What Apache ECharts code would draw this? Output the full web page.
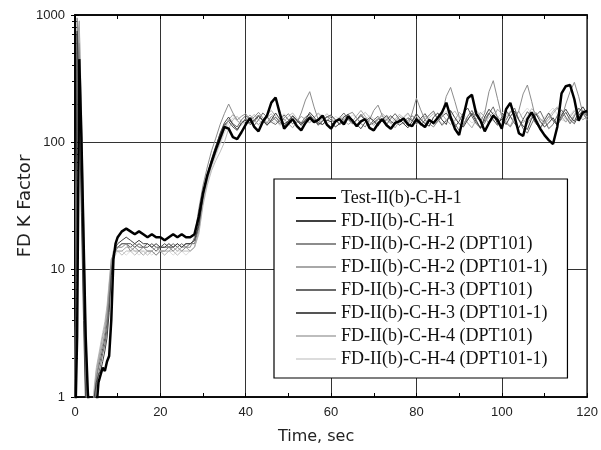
<!DOCTYPE html>
<html>
<head>
<meta charset="utf-8">
<script src="https://cdn.jsdelivr.net/npm/echarts@6/dist/echarts.min.js"></script>
<style>
html,body{margin:0;padding:0;background:#fff;}
#main{width:601px;height:450px;}
</style>
</head>
<body>
<div id="main"></div>
<script>
// 时间轴 (s)
var timeSec=[0,0.5,1,1.5,2,2.5,3,3.5,4,4.5,5,5.5,6,6.5,7,7.5,8,8.5,9,9.5,10,
	11,12,13,14,15,16,17,18,19,20,
	21,22,23,24,25,26,27,28,29,30,
	31,32,33,34,35,36,37,38,39,40,
	41,42,43,44,45,46,47,48,49,50,
	51,52,53,54,55,56,57,58,59,60,
	61,62,63,64,65,66,67,68,69,70,
	71,72,73,74,75,76,77,78,79,80,
	81,82,83,84,85,86,87,88,89,90,
	91,92,93,94,95,96,97,98,99,100,
	101,102,103,104,105,106,107,108,109,110,
	111,112,113,114,115,116,117,118,119,120];

var seriesNames=["Test-II(b)-C-H-1","FD-II(b)-C-H-1","FD-II(b)-C-H-2 (DPT101)","FD-II(b)-C-H-2 (DPT101-1)",
	"FD-II(b)-C-H-3 (DPT101)","FD-II(b)-C-H-3 (DPT101-1)","FD-II(b)-C-H-4 (DPT101)","FD-II(b)-C-H-4 (DPT101-1)"];

var testH1=[0.5,3,450,110,18,3,1.1,0.6,0.4,0.5,0.8,1.3,1.5,1.7,1.6,1.9,2.1,4,12,16,18,
	20,21,20,19,20,19,18,19,18,18,
	17,18,19,18,19,18,18,19,26,40,
	55,70,88,108,132,128,110,106,120,138,
	155,132,122,145,162,205,225,168,128,140,
	152,134,124,142,156,144,150,162,138,128,
	146,152,138,160,148,134,146,152,130,124,
	140,152,136,128,142,146,154,138,134,152,
	140,132,150,142,156,172,205,158,128,114,
	160,222,236,168,148,122,142,162,150,128,
	182,204,158,118,112,152,172,148,128,114,
	104,97,132,242,276,282,218,148,172,176];

var fdH1=[1,750,180,28,4,0.8,0.4,0.4,0.6,1.0,1.3,1.5,1.6,1.9,2.3,2.9,4.6,9,13,15,16,
	17,18,17,16,17,16,16,15,16,15,
	15,16,15,16,15,16,16,17,22,38,
	54,72,92,118,142,158,138,126,142,150,
	138,146,160,148,136,150,170,152,140,146,
	160,148,136,150,172,158,142,138,150,145,
	132,140,158,166,150,138,128,144,156,148,
	134,150,162,146,138,152,140,130,146,168,
	152,140,134,158,170,150,138,178,156,140,
	132,150,168,146,130,158,182,166,140,152,
	138,160,176,150,134,126,154,168,146,132,
	142,156,138,164,182,160,146,172,190,168];

var fdH2a=[1.2,950,420,60,8,1.5,0.6,0.3,0.5,0.9,1.4,1.8,2.2,2.6,3.2,4.2,6.5,11,14,14,15,
	15,16,14,15,14,15,14,14,13,14,
	14,15,14,15,14,15,15,18,30,46,
	64,86,108,138,168,200,170,150,160,168,
	150,158,172,156,142,160,150,140,156,168,
	150,142,170,215,250,190,150,138,146,160,
	152,140,150,166,172,155,140,132,150,178,
	196,162,140,128,144,160,150,138,170,222,
	180,150,140,132,146,168,230,270,210,160,
	140,150,170,162,145,170,250,305,220,160,
	142,132,150,178,240,282,210,150,130,142,
	160,150,138,152,200,250,296,230,168,150];

var fdH2b=[0.8,600,900,150,25,3,0.9,0.4,0.5,1.1,1.6,2.0,2.4,3.0,3.6,4.8,7.5,12,13,14,14,
	14,15,15,14,14,13,14,14,15,14,
	14,14,15,14,15,15,14,15,20,34,
	50,66,82,100,126,150,165,148,140,152,
	164,150,138,150,166,178,160,146,152,140,
	130,146,160,150,142,156,170,158,140,132,
	146,158,150,138,146,162,178,160,144,136,
	150,168,156,142,130,146,158,170,150,138,
	146,160,152,140,150,166,150,138,148,172,
	160,142,130,150,172,158,140,154,182,168,
	146,134,160,176,150,140,158,172,154,140,
	150,168,186,160,144,158,176,164,150,160];

var fdH3a=[0.9,400,600,90,12,2,0.7,0.4,0.5,0.8,1.2,1.5,1.8,2.2,2.6,3.4,5.5,10,13,14,15,
	16,16,15,16,15,15,16,15,14,15,
	15,15,16,15,16,15,16,16,21,36,
	52,68,86,110,134,150,140,132,150,162,
	148,136,150,170,158,144,138,150,164,150,
	140,150,142,158,166,150,136,148,160,150,
	142,156,170,152,140,150,162,148,136,150,
	160,146,138,154,168,152,140,148,162,150,
	136,150,164,176,152,136,148,160,140,124,
	136,160,178,150,128,142,168,190,156,132,
	150,172,186,150,128,118,140,162,176,150,
	128,138,162,180,158,140,160,186,172,150];

var fdH3b=[1.1,700,300,40,6,1.1,0.5,0.4,0.6,1.0,1.4,1.7,2.0,2.4,2.9,3.8,6,10.5,13,15,15,
	16,16,16,15,16,15,15,16,15,15,
	16,15,15,16,15,16,16,17,23,40,
	56,74,94,116,138,146,132,124,140,154,
	142,150,164,150,138,146,158,144,134,148,
	162,150,140,148,160,152,138,146,158,164,
	150,138,146,154,142,150,166,152,138,142,
	154,146,150,162,150,136,144,156,148,140,
	154,168,150,138,146,160,170,150,132,146,
	170,186,160,140,130,150,170,150,136,158,
	176,160,140,130,152,174,160,140,128,150,
	170,148,136,156,172,150,140,162,178,160];

var fdH4a=[0.7,300,800,200,30,4,1.0,0.5,0.6,1.2,1.7,2.1,2.6,3.2,3.9,5.2,8,12,13,14,14,
	13,14,14,13,14,14,13,14,13,14,
	13,14,14,13,14,14,14,15,19,32,
	46,60,72,84,100,128,150,160,146,140,
	152,166,150,140,156,168,150,136,146,160,
	170,154,142,150,162,150,140,154,168,156,
	144,150,162,150,140,148,160,172,158,144,
	150,162,150,140,152,166,156,142,150,160,
	150,142,156,168,152,140,150,164,176,156,
	144,152,166,180,160,146,156,172,160,146,
	158,176,164,150,142,160,184,170,152,146,
	158,176,190,170,152,146,166,184,176,158];

var fdH4b=[1.0,500,700,120,15,2.5,0.8,0.4,0.5,1.0,1.5,1.9,2.3,2.8,3.4,4.5,7,11.5,13,13,14,
	14,13,14,14,13,14,14,13,14,14,
	13,14,13,14,14,13,14,15,19,33,
	48,62,78,96,118,140,156,148,136,146,
	158,146,136,148,160,150,142,156,168,152,
	140,148,160,152,144,156,168,150,140,148,
	160,152,140,150,164,156,144,150,162,154,
	142,150,164,156,146,140,154,166,152,142,
	150,162,154,142,150,164,176,160,148,154,
	166,154,142,150,164,178,160,146,156,170,
	182,160,148,156,170,186,166,150,144,158,
	172,186,166,150,146,164,180,170,156,150];

var xTicks=[0,20,40,60,80,100,120];
var yTicks=[1,10,100,1000];

var allValues=[testH1,fdH1,fdH2a,fdH2b,fdH3a,fdH3b,fdH4a,fdH4b];
var lineColors=["#000000","#404040","#8c8c8c","#a8a8a8","#6a6a6a","#555555","#bdbdbd","#dcdcdc"];
var lineWidths=[2.5,1,1,1,1,1,1,1];

var myChart=echarts.init(document.getElementById("main"));

var series=[];
// 先画浅色，最后画黑色
for(var k=allValues.length-1;k>=0;k--){
	var vals=allValues[k];
	series.push({
		name:seriesNames[k],
		type:'line',
		symbol:'none',
		clip:true,
		z:10-k,
		data:timeSec.map(function(t,i){return [t,vals[i]];}),
		lineStyle:{color:lineColors[k],width:lineWidths[k]},
		itemStyle:{color:lineColors[k]}
	});
}

var axisFont={color:'#222',fontSize:13,fontFamily:'Liberation Sans, Arial, sans-serif'};
var nameFont='DejaVu Sans, sans-serif';

var option={
	animation:false,
	backgroundColor:'#fff',
	grid:{
		left:75,
		right:11,
		top:15,
		bottom:53,
		show:true,
		borderColor:'#000',
		borderWidth:1.5
	},
	legend:{
		data:seriesNames,
		orient:'vertical',
		left:274,
		top:179,
		padding:[10,20,10,21],
		itemWidth:40,
		itemHeight:14,
		itemGap:5,
		itemStyle:{opacity:0},
		backgroundColor:'#fff',
		borderColor:'#000',
		borderWidth:1.2,
		borderRadius:0,
		textStyle:{
			color:'#111',
			fontSize:18,
			fontFamily:'Liberation Serif, Times New Roman, serif'
		}
	},
	xAxis:[
		{
			type:'value',
			min:0,
			max:120,
			interval:20,
			name:'Time, sec',
			nameLocation:'middle',
			nameGap:32,
			nameTextStyle:{color:'#222',fontSize:16,fontFamily:nameFont,padding:[0,30,0,0]},
			axisLabel:Object.assign({margin:9,formatter:function(v){return xTicks.indexOf(v)>=0?v:'';}},axisFont),
			axisLine:{show:true,lineStyle:{color:'#000',width:1.5}},
			axisTick:{show:true,inside:true,length:4,lineStyle:{color:'#000'}},
			minorTick:{show:true,splitNumber:2,length:4,lineStyle:{color:'#000'}},
			splitLine:{show:true,lineStyle:{color:'#333',width:1}}
		},
		{
			type:'value',
			position:'top',
			min:0,
			max:120,
			interval:20,
			axisLabel:{show:false},
			axisLine:{show:true,lineStyle:{color:'#000',width:1.5}},
			axisTick:{show:true,inside:true,length:4,lineStyle:{color:'#000'}},
			minorTick:{show:true,splitNumber:2,length:4,lineStyle:{color:'#000'}},
			splitLine:{show:false}
		}
	],
	yAxis:[
		{
			type:'log',
			logBase:10,
			min:1,
			max:1000,
			name:'FD K Factor',
			nameLocation:'middle',
			nameGap:41,
			nameMoveOverlap:false,
			nameTextStyle:{color:'#222',fontSize:18,fontFamily:nameFont},
			axisLabel:Object.assign({margin:10,formatter:function(v){return yTicks.indexOf(v)>=0?v:'';}},axisFont),
			axisLine:{show:true,lineStyle:{color:'#000',width:1.5}},
			axisTick:{show:true,inside:true,length:4,lineStyle:{color:'#000'}},
			minorTick:{show:true,splitNumber:9,length:3,lineStyle:{color:'#000'}},
			splitLine:{show:true,lineStyle:{color:'#333',width:1}}
		},
		{
			type:'log',
			logBase:10,
			min:1,
			max:1000,
			position:'right',
			axisLabel:{show:false},
			axisLine:{show:true,lineStyle:{color:'#000',width:1.5}},
			axisTick:{show:true,inside:true,length:4,lineStyle:{color:'#000'}},
			minorTick:{show:true,splitNumber:9,length:3,lineStyle:{color:'#000'}},
			splitLine:{show:false}
		}
	],
	series:series
};
myChart.setOption(option);
</script>
</body>
</html>
